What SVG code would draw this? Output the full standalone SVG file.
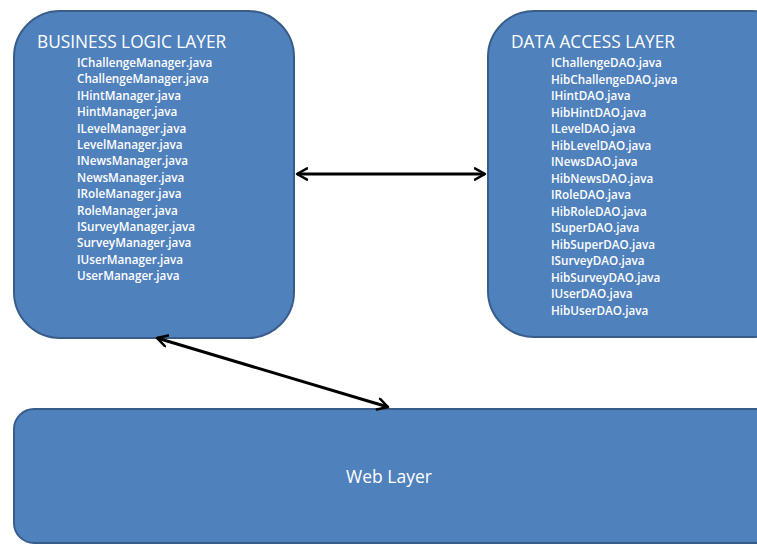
<svg xmlns="http://www.w3.org/2000/svg" width="757" height="545" viewBox="0 0 757 545">
  <style>
    .box { fill: #4F81BD; stroke: #385D8A; stroke-width: 2; }
    .title { font-family: "Open Sans", "Liberation Sans", sans-serif; font-size: 17.3px; fill: #FFFFFF; }
    .item { font-family: "Open Sans", "Liberation Sans", sans-serif; font-size: 11.7px; font-weight: 600; fill: #FFFFFF; }
    .label { font-family: "Open Sans", "Liberation Sans", sans-serif; font-size: 17.5px; fill: #FFFFFF; }
    .conn { stroke: #000000; stroke-width: 3; fill: none; }
  </style>
  <defs>
    <!-- open chevron head, reused at both ends of each connector -->
    <marker id="head" viewBox="0 0 12 12" refX="10" refY="6" markerWidth="4.5" markerHeight="4.5" orient="auto-start-reverse" markerUnits="strokeWidth">
      <path d="M1,1 L10,6 L1,11" fill="none" stroke="#000000" stroke-width="2.2" stroke-linecap="round" stroke-linejoin="round"/>
    </marker>
  </defs>

  <rect width="757" height="545" fill="#FFFFFF"/>

  <g id="business-logic-layer">
    <rect class="box" x="14" y="11" width="280" height="327" rx="46" ry="46"/>
    <text class="title" x="37" y="48">BUSINESS LOGIC LAYER</text>
    <text class="item" x="77" y="67">IChallengeManager.java</text>
    <text class="item" x="77" y="83.4">ChallengeManager.java</text>
    <text class="item" x="77" y="99.8">IHintManager.java</text>
    <text class="item" x="77" y="116.2">HintManager.java</text>
    <text class="item" x="77" y="132.6">ILevelManager.java</text>
    <text class="item" x="77" y="149">LevelManager.java</text>
    <text class="item" x="77" y="165.4">INewsManager.java</text>
    <text class="item" x="77" y="181.8">NewsManager.java</text>
    <text class="item" x="77" y="198.2">IRoleManager.java</text>
    <text class="item" x="77" y="214.6">RoleManager.java</text>
    <text class="item" x="77" y="231">ISurveyManager.java</text>
    <text class="item" x="77" y="247.4">SurveyManager.java</text>
    <text class="item" x="77" y="263.8">IUserManager.java</text>
    <text class="item" x="77" y="280.2">UserManager.java</text>
  </g>

  <g id="data-access-layer">
    <rect class="box" x="488" y="11" width="310" height="326" rx="46" ry="46"/>
    <text class="title" x="511" y="48">DATA ACCESS LAYER</text>
    <text class="item" x="551" y="67">IChallengeDAO.java</text>
    <text class="item" x="551" y="83.5">HibChallengeDAO.java</text>
    <text class="item" x="551" y="100">IHintDAO.java</text>
    <text class="item" x="551" y="116.5">HibHintDAO.java</text>
    <text class="item" x="551" y="133">ILevelDAO.java</text>
    <text class="item" x="551" y="149.5">HibLevelDAO.java</text>
    <text class="item" x="551" y="166">INewsDAO.java</text>
    <text class="item" x="551" y="182.5">HibNewsDAO.java</text>
    <text class="item" x="551" y="199">IRoleDAO.java</text>
    <text class="item" x="551" y="215.5">HibRoleDAO.java</text>
    <text class="item" x="551" y="232">ISuperDAO.java</text>
    <text class="item" x="551" y="248.5">HibSuperDAO.java</text>
    <text class="item" x="551" y="265">ISurveyDAO.java</text>
    <text class="item" x="551" y="281.5">HibSurveyDAO.java</text>
    <text class="item" x="551" y="298">IUserDAO.java</text>
    <text class="item" x="551" y="314.5">HibUserDAO.java</text>
  </g>

  <g id="web-layer">
    <rect class="box" x="14" y="409" width="780" height="134" rx="20" ry="20"/>
    <text class="label" x="389" y="483" text-anchor="middle">Web Layer</text>
  </g>

  <g id="connectors">
    <line class="conn" x1="297" y1="174" x2="485" y2="174" marker-start="url(#head)" marker-end="url(#head)"/>
    <line class="conn" x1="157" y1="338" x2="388" y2="407" marker-start="url(#head)" marker-end="url(#head)"/>
  </g>
</svg>
